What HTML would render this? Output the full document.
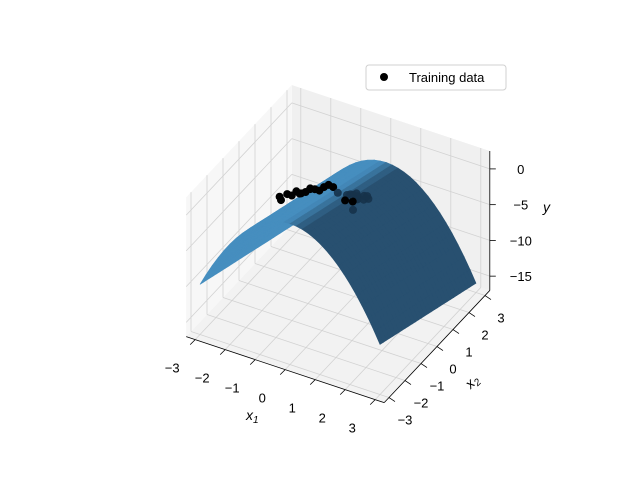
<!DOCTYPE html>
<html><head><meta charset="utf-8">
<style>
html,body{margin:0;padding:0;background:#fff;}
svg{display:block;font-family:"Liberation Sans",sans-serif;}
</style></head>
<body>
<svg id="chart" width="640" height="480" viewBox="0 0 640 480" xmlns="http://www.w3.org/2000/svg">
<g id="panes"></g>
<g id="grid"></g>
<g id="axes"></g>
<g id="surf"></g>
<g id="pts"></g>
<text x="246" y="420" font-size="14" font-style="italic">x<tspan font-size="10" dy="3">1</tspan></text>
<text x="466" y="388" font-size="14" font-style="italic" transform="rotate(-45 470 383)">x<tspan font-size="10" dy="3">2</tspan></text>
<text x="543" y="212" font-size="14" font-style="italic">y</text>
<g>
<rect x="366" y="65" width="140" height="25" rx="3" fill="#fff" fill-opacity="0.8" stroke="#d0d0d0"/>
<circle cx="384" cy="77" r="4" fill="#000"/>
<text x="409" y="82" font-size="13" fill="#000">Training data</text>
</g>
</svg>
<script>
const x1Ticks=[-3,-2,-1,0,1,2,3];
const x2Ticks=[-3,-2,-1,0,1,2,3];
const zTicks=[0,-5,-10,-15];
const surfC=-0.15, surfK=1.41, surfM=-0.95;
const ptX1=[-1.2,-1.0,-0.9,-0.8,-0.7,-0.6,-0.5,-0.4,-0.3,-0.2,-0.1,0.0,-1.1,-0.75,-0.55,0.1,0.3,0.4,0.5,0.6,0.7,0.8,0.35,0.55,0.65,0.45,0.75,0.25,0.6,0.5];
const ptX2=[-1.4,-1.3,-1.2,-1.1,-1.0,-0.9,-0.8,-0.7,-0.6,-0.5,-0.4,-0.3,-1.5,-1.0,-0.7,-0.2,0.0,0.2,0.3,0.1,-0.1,0.4,0.5,0.6,-0.3,-0.4,0.2,0.3,0.7,0.0];
const ptY=[1.0,1.4,1.1,1.6,1.2,1.3,1.7,1.5,1.2,1.6,1.8,1.4,0.9,1.1,1.3,0.5,0.0,-0.3,-0.6,-0.4,0.2,-0.8,-0.9,-1.2,0.3,0.4,-0.5,-0.7,-1.4,-1.8];

const X1=[-3.3,3.3], X2=[-3.3,3.3], Z=[-17,2.5];
const NS="http://www.w3.org/2000/svg";
function P(a,b,c){return [338+30*a+16*b, 192+10*a-17*b-7.15*c];}
function depth(a,b,c){return 0.433*(a/6.6)-0.75*(b/6.6)+0.5*(c/19.5);}
function mk(tag,attrs,parent){const e=document.createElementNS(NS,tag);for(const k in attrs)e.setAttribute(k,attrs[k]);parent.appendChild(e);return e;}
function poly(pts){return pts.map(p=>p[0].toFixed(1)+','+p[1].toFixed(1)).join(' ');}
const panes=document.getElementById('panes'),grid=document.getElementById('grid'),axes=document.getElementById('axes');
let e;
e=mk('polygon',{points:poly([P(X1[0],X2[0],Z[0]),P(X1[1],X2[0],Z[0]),P(X1[1],X2[1],Z[0]),P(X1[0],X2[1],Z[0])]),fill:'#f2f2f2'},panes);


e=mk('polygon',{points:poly([P(X1[0],X2[1],Z[0]),P(X1[1],X2[1],Z[0]),P(X1[1],X2[1],Z[1]),P(X1[0],X2[1],Z[1])]),fill:'#f0f0f0'},panes);


e=mk('polygon',{points:poly([P(X1[0],X2[0],Z[0]),P(X1[0],X2[1],Z[0]),P(X1[0],X2[1],Z[1]),P(X1[0],X2[0],Z[1])]),fill:'#f7f7f7'},panes);


function gl(p,q,name){const l=mk('line',{x1:p[0],y1:p[1],x2:q[0],y2:q[1],stroke:'#d2d2d2','stroke-width':0.8},grid);

}
x1Ticks.forEach(t=>{gl(P(t,X2[0],Z[0]),P(t,X2[1],Z[0]),'x1-gridline');gl(P(t,X2[1],Z[0]),P(t,X2[1],Z[1]),'x1-gridline');});
x2Ticks.forEach(t=>{gl(P(X1[0],t,Z[0]),P(X1[1],t,Z[0]),'x2-gridline');gl(P(X1[0],t,Z[0]),P(X1[0],t,Z[1]),'x2-gridline');});
zTicks.forEach(t=>{gl(P(X1[0],X2[0],t),P(X1[0],X2[1],t),'z-gridline');gl(P(X1[0],X2[1],t),P(X1[1],X2[1],t),'z-gridline');});
function al(p,q,name){const l=mk('line',{x1:p[0],y1:p[1],x2:q[0],y2:q[1],stroke:'#000','stroke-width':0.8},axes);

}
al(P(X1[0],X2[0],Z[0]),P(X1[1],X2[0],Z[0]),'x1-axis-line');
al(P(X1[1],X2[0],Z[0]),P(X1[1],X2[1],Z[0]),'x2-axis-line');
al(P(X1[1],X2[1],Z[0]),P(X1[1],X2[1],Z[1]),'z-axis-line');
function tk(p,dx,dy,lx,ly,txt,name){al(p,[p[0]+dx,p[1]+dy],name+'-tick');
const t=mk('text',{x:p[0]+lx,y:p[1]+ly+5,'font-size':13,'text-anchor':'middle',fill:'#000'},axes);t.textContent=txt;

}
const fmt=v=>v<0?'\u2212'+Math.abs(v):''+v;
x1Ticks.forEach(t=>tk(P(t,X2[0],Z[0]),-5,5,-23,28,fmt(t),'x1'));
x2Ticks.forEach(t=>tk(P(X1[1],t,Z[0]),6,4,16,22,fmt(t),'x2'));
zTicks.forEach(t=>tk(P(X1[1],X2[1],t),6,0,31,0,fmt(t),'z'));
const surf=document.getElementById('surf');
const N=30,quads=[];
const f=(a,b)=>surfC-surfK*a*a+surfM*b;
for(let i=0;i<N;i++)for(let j=0;j<N;j++){
 const a0=-3+6*i/N,a1=-3+6*(i+1)/N,b0=-3+6*j/N,b1=-3+6*(j+1)/N;
 const am=(a0+a1)/2,bm=(b0+b1)/2;
 const c=[[a0,b0],[a1,b0],[a1,b1],[a0,b1]].map(v=>P(v[0],v[1],f(v[0],v[1])));
 const dzda=-2*surfK*am,dzdb=surfM;
 let nx=-dzda,ny=-dzdb,nz=1;const nl=Math.hypot(nx,ny,nz);nx/=nl;ny/=nl;nz/=nl;
 let s=(-0.75*nx+0.2*ny+0.45*nz);s=Math.max(0,Math.min(1,(s+0.2)/0.9));
 const col=[Math.round(40+30*s),Math.round(80+62*s),Math.round(112+79*s)];
 quads.push({d:depth(am,bm,f(am,bm)),pts:c,col:'rgb('+col.join(',')+')'});
}
quads.sort((p,q)=>p.d-q.d);
quads.forEach(q=>{const p=mk('polygon',{points:poly(q.pts),fill:q.col,stroke:q.col,'stroke-width':0.6},surf);

});
const pts=document.getElementById('pts');
ptX1.forEach((a,i)=>{const b=ptX2[i],c=ptY[i];const p=P(a,b,c);
 const above=c>f(a,b)+0.3 && b<-0.2;
 const ci=mk('circle',{cx:p[0].toFixed(1),cy:p[1].toFixed(1),r:4,fill:above?'#000':'#16324a','fill-opacity':above?1:0.9},pts);
 
 });
</script>
</body></html>
